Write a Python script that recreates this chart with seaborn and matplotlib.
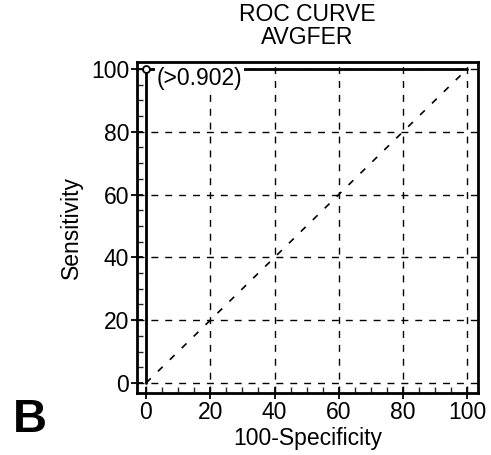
import matplotlib
matplotlib.use("Agg")
import matplotlib.pyplot as plt
import seaborn as sns
import pandas as pd
from matplotlib.ticker import MultipleLocator

# ROC curve points (100-Specificity, Sensitivity)
fpr = [0, 0, 100]
tpr = [0, 100, 100]
diag = [0, 100]
criterion_label = "(>0.902)"
ticks = [0, 20, 40, 60, 80, 100]

sns.set_theme(style="white")
plt.rcParams['font.family'] = ['Liberation Sans', 'DejaVu Sans']
plt.rcParams['text.color'] = 'black'

fig = plt.figure(figsize=(4.91, 4.55), dpi=100)
ax = fig.add_axes([0.279, 0.136, 0.695, 0.728])

# grid lines at the major ticks
for t in ticks:
    ax.axhline(t, color='black', lw=1, ls=(0, (5, 5)), zorder=1)
    ax.axvline(t, color='black', lw=1, ls=(0, (5, 5)), zorder=1)

# reference diagonal
sns.lineplot(x=diag, y=diag, ax=ax, color='black', lw=1.2,
             linestyle=(0, (4, 6)), zorder=2)

roc = pd.DataFrame({"fpr": fpr, "tpr": tpr})
sns.lineplot(data=roc, x="fpr", y="tpr", ax=ax, color='black', lw=2,
             sort=False, estimator=None, zorder=3)
ax.plot(fpr[1], tpr[1], 'o', ms=5, mfc='white', mec='black', mew=1.3, zorder=4)
ax.text(fpr[1] + 3.3, tpr[1] - 3.0, criterion_label, fontsize=16.5, va='center',
        ha='left', color='black', zorder=5,
        bbox=dict(facecolor='white', edgecolor='none', pad=1.0))

ax.set_xlim(-2.8, 103.4)
ax.set_ylim(-3.2, 102.2)
ax.set_xticks(ticks)
ax.set_yticks(ticks)
ax.xaxis.set_minor_locator(MultipleLocator(5))
ax.yaxis.set_minor_locator(MultipleLocator(5))
ax.tick_params(which='major', direction='inout', length=9, width=1.3,
               labelsize=16.5, colors='black', bottom=True, left=True, pad=1)
ax.tick_params(which='minor', direction='in', length=4, width=1,
               bottom=True, left=True)
for s in ax.spines.values():
    s.set_color('black')
    s.set_linewidth(2)

ax.set_xlabel("100-Specificity", fontsize=16.5, color='black', labelpad=2)
ax.set_ylabel("Sensitivity", fontsize=16.5, color='black', labelpad=6)
ax.set_title("ROC CURVE\nAVGFER", fontsize=16.5, color='black',
             linespacing=0.98, pad=13)

fig.text(0.026, 0.05, "B", fontsize=34, fontweight='bold', color='black')

fig.savefig("out.png", dpi=100, facecolor='white')
